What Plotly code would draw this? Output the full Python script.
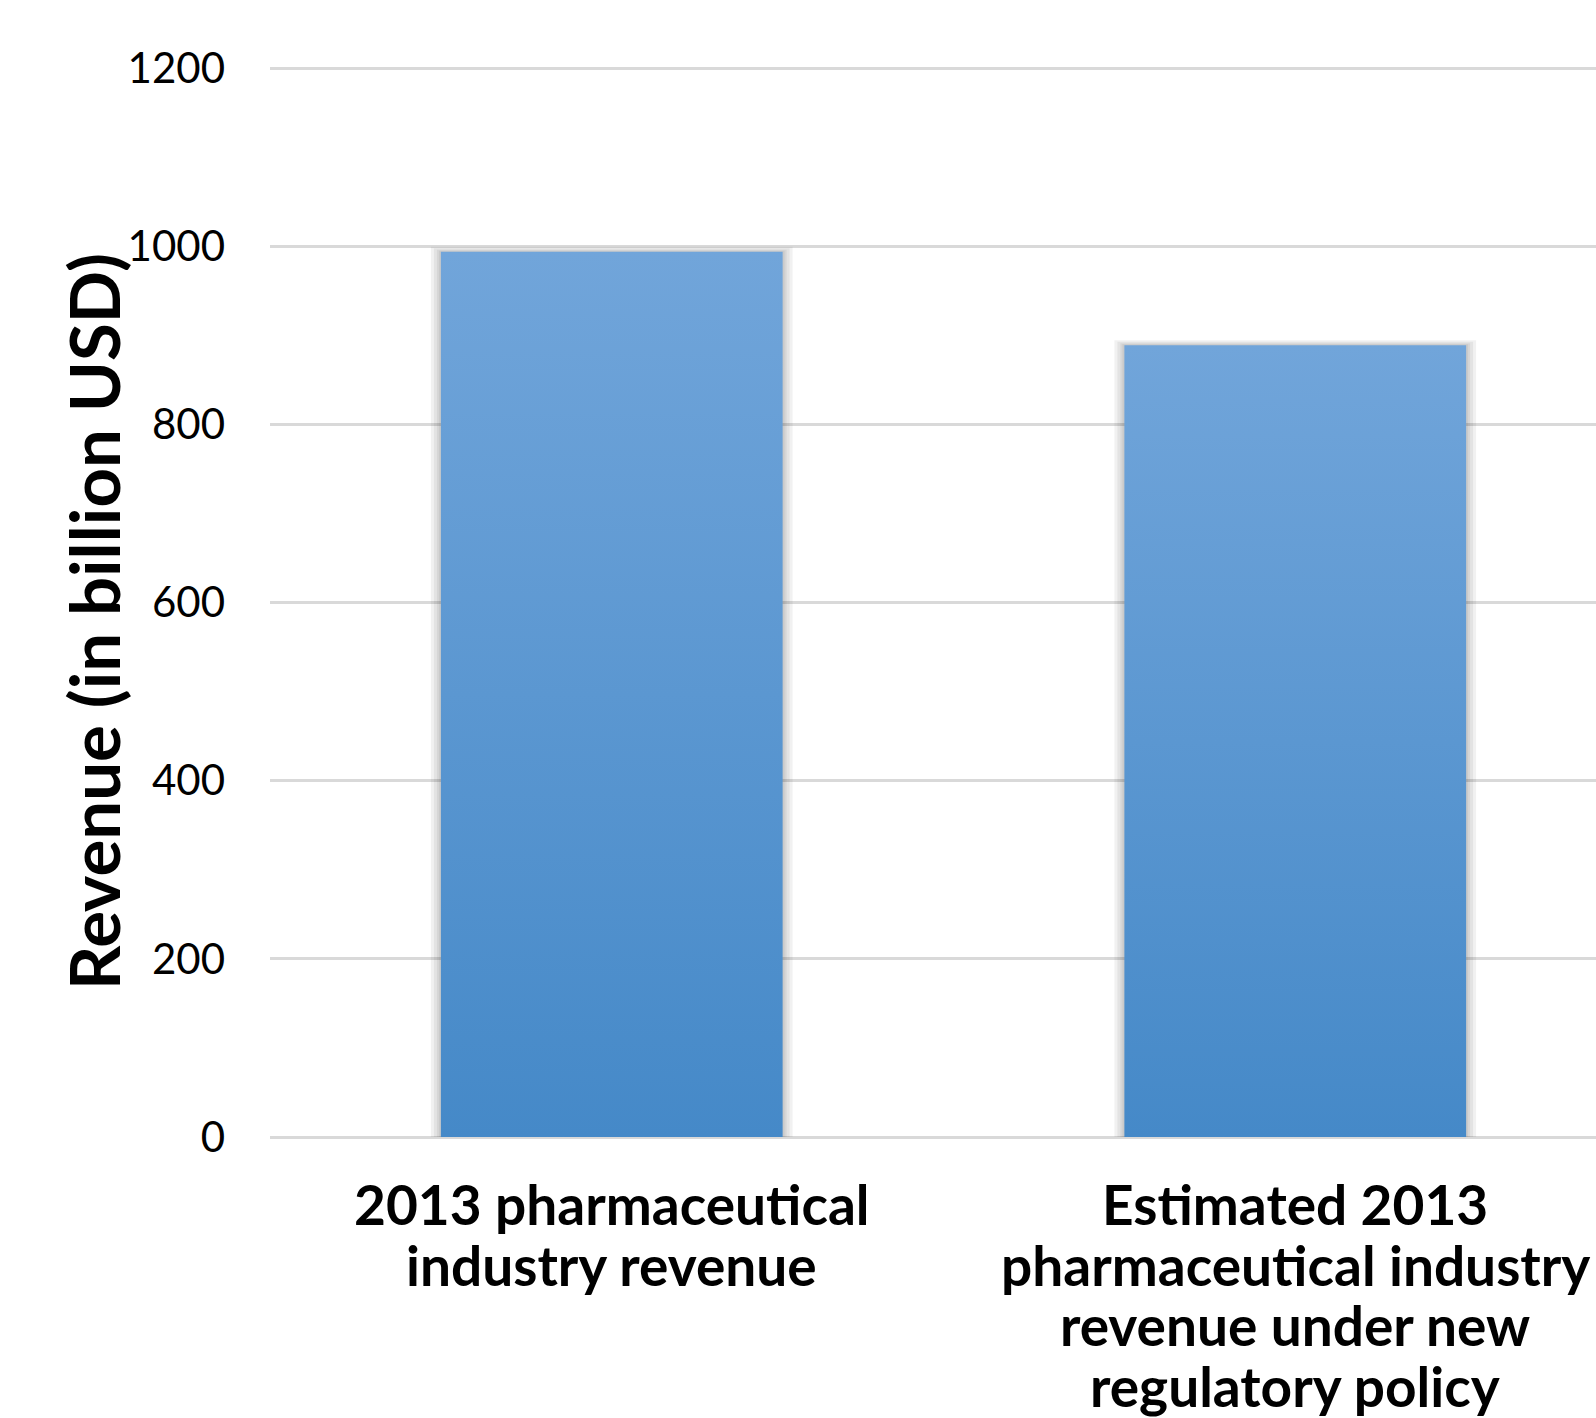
import plotly.graph_objects as go

# Revenue figures (billion USD)
categories = [
    "2013 pharmaceutical industry revenue",
    "Estimated 2013 pharmaceutical industry revenue under new regulatory policy",
]
tick_labels = [
    "2013 pharmaceutical<br>industry revenue",
    "Estimated 2013<br>pharmaceutical industry<br>revenue under new<br>regulatory policy",
]
revenue = [994, 889]
y_ticks = [0, 200, 400, 600, 800, 1000, 1200]

BAR_W = 0.5
TOP_COLOR = "#71A5DA"
BOTTOM_COLOR = "#4589C8"
FONT = "Lato"

fig = go.Figure()

# soft shadow around each bar (px converted to data units)
px_x = 1.0 / 683.5
px_y = 1.0 / 0.891
for i, v in enumerate(revenue):
    for grow in (10, 7, 4, 2):
        dx = grow * px_x
        dy = grow * px_y * 0.5
        x0, x1 = i - BAR_W / 2 - dx, i + BAR_W / 2 + dx
        fig.add_trace(go.Scatter(
            x=[x0, x1, x1, x0, x0], y=[0, 0, v + dy, v + dy, 0],
            mode="lines", fill="toself", line=dict(width=0),
            fillcolor="rgba(0,0,0,0.055)", hoverinfo="skip", showlegend=False,
        ))

# bars with a vertical gradient fill
for i, (name, v) in enumerate(zip(categories, revenue)):
    x0, x1 = i - BAR_W / 2, i + BAR_W / 2
    fig.add_trace(go.Scatter(
        x=[x0, x1, x1, x0, x0], y=[0, 0, v, v, 0],
        mode="lines", fill="toself", line=dict(width=0),
        fillgradient=dict(type="vertical",
                          colorscale=[[0, BOTTOM_COLOR], [1, TOP_COLOR]]),
        name=name, hoverinfo="text", text=f"{name}: {v}",
        showlegend=False,
    ))

fig.update_layout(
    width=1596, height=1418,
    margin=dict(l=270, r=0, t=66, b=281),
    paper_bgcolor="white", plot_bgcolor="white",
    font=dict(family=FONT, color="black"),
    showlegend=False,
)

fig.update_xaxes(
    range=[-0.5, 1.44],
    tickmode="array", tickvals=list(range(len(categories))),
    showticklabels=False,
    ticks="", showgrid=False, zeroline=False, showline=False,
    automargin=False, fixedrange=True,
)
fig.update_yaxes(
    range=[0, 1202.5],
    tickmode="array", tickvals=y_ticks,
    tickfont=dict(family=FONT, size=42, color="black"),
    showgrid=True, gridcolor="#D9D9D9", gridwidth=2.5,
    zeroline=True, zerolinecolor="#D9D9D9", zerolinewidth=2.5,
    ticks="", showline=False, ticklabelstandoff=44, automargin=False,
)

# category labels under the bars, one annotation per line for tight leading
LINE_GAP = 60.5
FIRST_LINE = 67
for i, label in enumerate(tick_labels):
    for k, line in enumerate(label.split("<br>")):
        fig.add_annotation(
            text=f"<b>{line}</b>", x=i, xref="x", y=0, yref="paper",
            xanchor="center", yanchor="middle",
            yshift=-(FIRST_LINE + k * LINE_GAP),
            showarrow=False, font=dict(family=FONT, size=55, color="black"),
        )

fig.add_annotation(
    text="<b>Revenue (in billion USD)</b>",
    xref="paper", yref="paper", x=-0.1327, y=0.481,
    xanchor="center", yanchor="middle", textangle=-90,
    showarrow=False, font=dict(family=FONT, size=69, color="black"),
)

fig.write_html("out.html")
